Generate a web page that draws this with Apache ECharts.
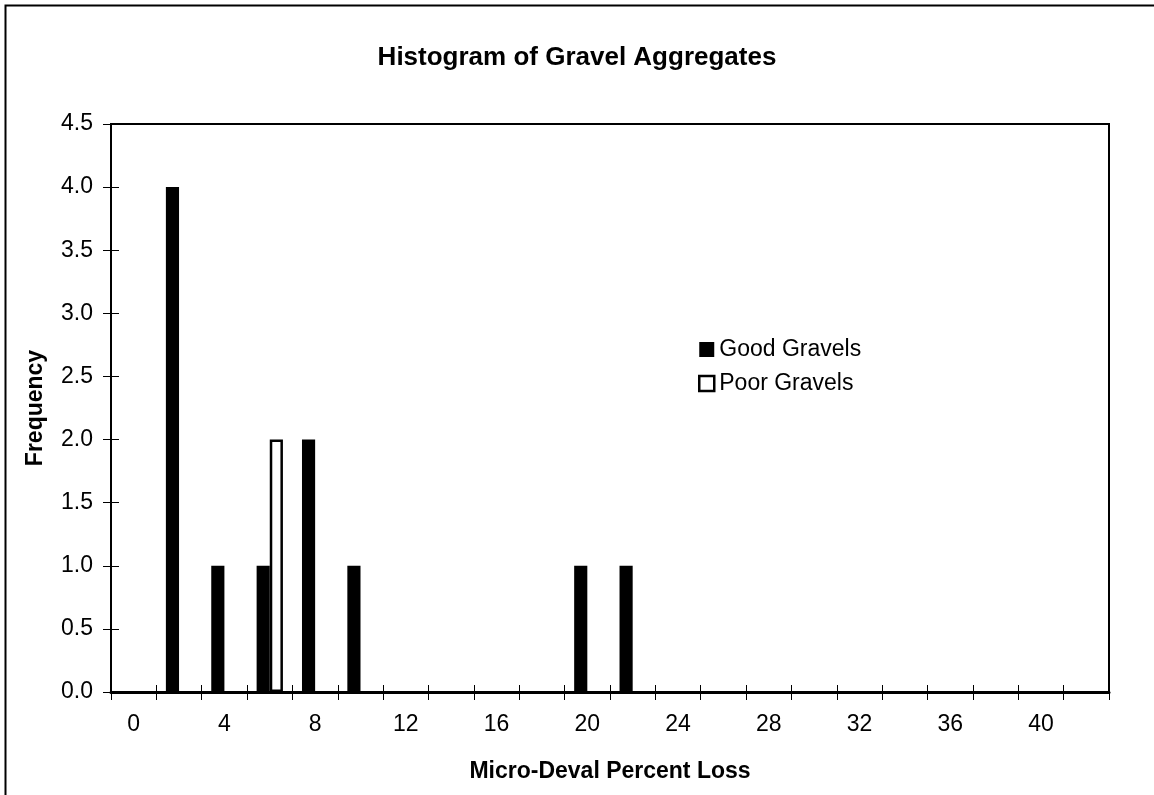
<!DOCTYPE html>
<html>
<head>
<meta charset="utf-8">
<script src="https://cdn.jsdelivr.net/npm/echarts@6/dist/echarts.min.js"></script>
<style>
  html, body { margin: 0; padding: 0; background: #fff; }
  #chart { width: 1154px; height: 795px; }
</style>
</head>
<body>
<div id="chart"></div>
<script>
// bins of Micro-Deval percent loss (width 2)
const bins = ['0', '2', '4', '6', '8', '10', '12', '14', '16', '18', '20',
  '22', '24', '26', '28', '30', '32', '34', '36', '38', '40', '42']
const goodGravels = [0, 4, 1, 1, 2, 1, 0, 0, 0, 0, 1, 1, 0, 0, 0, 0, 0, 0, 0, 0, 0, 0]
const poorGravels = [0, 0, 0, 2, 0, 0, 0, 0, 0, 0, 0, 0, 0, 0, 0, 0, 0, 0, 0, 0, 0, 0]
const seriesNames = ['Good Gravels', 'Poor Gravels']

const font = '"Liberation Sans", Arial, sans-serif'
const chart = echarts.init(document.getElementById('chart'))

// empty bins are left out so no zero-height rects sit on the axis line
const bars = (arr) => arr.map((v) => (v === 0 ? '-' : v))

const hiddenX = {
  type: 'category',
  data: bins,
  position: 'bottom',
  axisLine: { show: false },
  axisLabel: { show: false },
  axisTick: { show: true, inside: true, length: 7, interval: 0, lineStyle: { color: '#000', width: 1 } },
  splitLine: { show: false },
}

const hiddenY = {
  type: 'value',
  min: 0,
  max: 4.5,
  interval: 0.5,
  position: 'left',
  axisLine: { show: false },
  axisLabel: { show: false },
  axisTick: { show: true, inside: true, length: 8, lineStyle: { color: '#000', width: 1 } },
  splitLine: { show: false },
}

chart.setOption({
  animation: false,
  backgroundColor: '#fff',
  textStyle: { fontFamily: font, color: '#000' },
  title: {
    text: 'Histogram of Gravel Aggregates',
    left: 'center',
    top: 40,
    textStyle: { fontFamily: font, fontSize: 26, fontWeight: 'bold', color: '#000' },
  },
  graphic: [{
    type: 'rect',
    shape: { x: 5.5, y: 5.5, width: 1300, height: 1000 },
    style: { fill: 'none', stroke: '#000', lineWidth: 2 },
    silent: true,
  }],
  legend: {
    orient: 'vertical',
    left: 693,
    top: 333,
    itemWidth: 15,
    itemHeight: 15,
    itemGap: 11,
    icon: 'rect',
    textStyle: { fontFamily: font, fontSize: 23, color: '#000' },
    data: [
      { name: seriesNames[0], itemStyle: { color: '#000', borderWidth: 0 } },
      { name: seriesNames[1], itemStyle: { color: '#fff', borderColor: '#000', borderWidth: 2.5 } },
    ],
  },
  grid: {
    left: 111,
    right: 45,
    top: 124,
    bottom: 103,
    show: true,
    borderColor: '#000',
    borderWidth: 2,
    containLabel: false,
  },
  xAxis: [{
    type: 'category',
    data: bins,
    position: 'bottom',
    name: 'Micro-Deval Percent Loss',
    nameLocation: 'middle',
    nameGap: 68,
    nameTextStyle: { fontFamily: font, fontSize: 23, fontWeight: 'bold', color: '#000' },
    axisLine: { lineStyle: { color: '#000', width: 3 } },
    axisTick: { show: true, length: 8, interval: 0, lineStyle: { color: '#000', width: 1 } },
    axisLabel: { interval: 1, margin: 21, fontFamily: font, fontSize: 23, color: '#000' },
    splitLine: { show: false },
  }, hiddenX],
  yAxis: [{
    type: 'value',
    min: 0,
    max: 4.5,
    interval: 0.5,
    position: 'left',
    name: 'Frequency',
    nameLocation: 'middle',
    nameGap: 64,
    nameTextStyle: { fontFamily: font, fontSize: 23, fontWeight: 'bold', color: '#000' },
    axisLine: { show: true, lineStyle: { color: '#000', width: 2 } },
    axisTick: { show: true, length: 8, lineStyle: { color: '#000', width: 1 } },
    axisLabel: { margin: 18, fontFamily: font, fontSize: 23, color: '#000', formatter: (v) => v.toFixed(1) },
    splitLine: { show: false },
  }, hiddenY],
  series: [
    {
      name: seriesNames[0],
      type: 'bar',
      xAxisIndex: 0,
      yAxisIndex: 0,
      data: bars(goodGravels),
      barGap: '0%',
      barCategoryGap: '42%',
      itemStyle: { color: '#000' },
    },
    {
      name: seriesNames[1],
      type: 'bar',
      xAxisIndex: 0,
      yAxisIndex: 0,
      data: bars(poorGravels),
      barGap: '0%',
      barCategoryGap: '42%',
      itemStyle: { color: '#fff', borderColor: '#000', borderWidth: 2.5 },
    },
  ],
})
</script>
</body>
</html>
